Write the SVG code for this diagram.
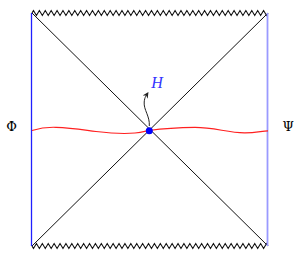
<svg xmlns="http://www.w3.org/2000/svg" width="303" height="261" viewBox="0 0 303 261">
<defs>
<style>
.zz{fill:none;stroke:#111;stroke-width:1.1;stroke-linejoin:miter}
.diag{fill:none;stroke:#111;stroke-width:1}
.lbl{font-family:"DejaVu Serif","Liberation Serif",serif;font-size:13px;fill:#000}
</style>
<marker id="ah" viewBox="0 0 10 10" refX="8" refY="5" markerWidth="6" markerHeight="6" orient="auto" markerUnits="userSpaceOnUse">
<path d="M0,0 L10,5 L0,10 L3,5 Z" fill="#222"/>
</marker>
</defs>
<rect width="303" height="261" fill="#fff"/>
<g id="connectors">
<path id="sing-top" class="zz" d="M32,13 l1.475,-2.5
l2.95,5 l2.95,-5 l2.95,5 l2.95,-5 l2.95,5 l2.95,-5 l2.95,5 l2.95,-5 l2.95,5 l2.95,-5 l2.95,5 l2.95,-5 l2.95,5 l2.95,-5 l2.95,5 l2.95,-5 l2.95,5 l2.95,-5 l2.95,5 l2.95,-5
l2.95,5 l2.95,-5 l2.95,5 l2.95,-5 l2.95,5 l2.95,-5 l2.95,5 l2.95,-5 l2.95,5 l2.95,-5 l2.95,5 l2.95,-5 l2.95,5 l2.95,-5 l2.95,5 l2.95,-5 l2.95,5 l2.95,-5 l2.95,5 l2.95,-5
l2.95,5 l2.95,-5 l2.95,5 l2.95,-5 l2.95,5 l2.95,-5 l2.95,5 l2.95,-5 l2.95,5 l2.95,-5 l2.95,5 l2.95,-5 l2.95,5 l2.95,-5 l2.95,5 l2.95,-5 l2.95,5 l2.95,-5 l2.95,5 l2.95,-5
l2.95,5 l2.95,-5 l2.95,5 l2.95,-5 l2.95,5 l2.95,-5 l2.95,5 l2.95,-5 l2.95,5 l2.95,-5 l2.95,5 l2.95,-5 l2.95,5 l2.95,-5 l2.95,5 l2.95,-5 l2.95,5 l2.95,-5
l2.95,5 l1.475,-2.5"/>
<path id="sing-bot" class="zz" d="M32,246 l1.475,2.5
l2.95,-5 l2.95,5 l2.95,-5 l2.95,5 l2.95,-5 l2.95,5 l2.95,-5 l2.95,5 l2.95,-5 l2.95,5 l2.95,-5 l2.95,5 l2.95,-5 l2.95,5 l2.95,-5 l2.95,5 l2.95,-5 l2.95,5 l2.95,-5 l2.95,5
l2.95,-5 l2.95,5 l2.95,-5 l2.95,5 l2.95,-5 l2.95,5 l2.95,-5 l2.95,5 l2.95,-5 l2.95,5 l2.95,-5 l2.95,5 l2.95,-5 l2.95,5 l2.95,-5 l2.95,5 l2.95,-5 l2.95,5 l2.95,-5 l2.95,5
l2.95,-5 l2.95,5 l2.95,-5 l2.95,5 l2.95,-5 l2.95,5 l2.95,-5 l2.95,5 l2.95,-5 l2.95,5 l2.95,-5 l2.95,5 l2.95,-5 l2.95,5 l2.95,-5 l2.95,5 l2.95,-5 l2.95,5 l2.95,-5 l2.95,5
l2.95,-5 l2.95,5 l2.95,-5 l2.95,5 l2.95,-5 l2.95,5 l2.95,-5 l2.95,5 l2.95,-5 l2.95,5 l2.95,-5 l2.95,5 l2.95,-5 l2.95,5 l2.95,-5 l2.95,5 l2.95,-5 l2.95,5
l2.95,-5 l1.475,2.5"/>
<line class="diag" x1="32" y1="13" x2="268" y2="246"/>
<line class="diag" x1="268" y1="13" x2="32" y2="246"/>
<line id="bdy-left" x1="31.5" y1="13" x2="31.5" y2="246" stroke="#2020ff" stroke-width="1.3"/>
<line id="bdy-right" x1="267.5" y1="13" x2="267.5" y2="246" stroke="#9a9aff" stroke-width="1.8"/>
<path id="slice" d="M32,130.5 C40,128 48,127 56,127.3 C72,127.8 84,130 96,131.5 C110,133.2 125,134 135,133 C142,132.3 146,131 149,130.5 C160,129 175,127.6 195,127.4 C215,127.4 228,133 245,132.8 C256,132.6 262,131 268,130.8" fill="none" stroke="#ff2020" stroke-width="1.2"/>
<path id="h-arrow" d="M149.3,126 C150,116 143.5,110 144.2,102 C144.6,97 146.5,95 147.8,93" fill="none" stroke="#222" stroke-width="1" marker-end="url(#ah)"/>
</g>
<g id="node-center">
<circle cx="149.3" cy="130.7" r="3.5" fill="#0000ff"/>
</g>
<g id="node-H">
<text x="157" y="88" font-family="'Liberation Serif',serif" font-style="italic" font-size="16" fill="#3333ff" text-anchor="middle">H</text>
</g>
<g id="node-phi">
<text class="lbl" x="11.7" y="130.5" text-anchor="middle">Φ</text>
</g>
<g id="node-psi">
<text class="lbl" x="288.3" y="130.5" text-anchor="middle">Ψ</text>
</g>
</svg>
